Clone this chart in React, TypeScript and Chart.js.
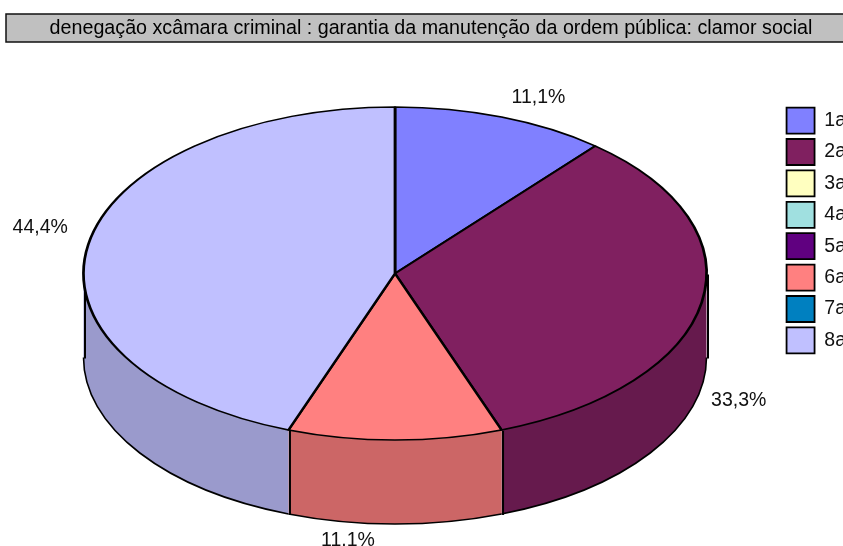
import React, { useEffect, useRef } from "react";
import { Chart, registerables } from "chart.js";

Chart.register(...registerables);

const titleText = "denegação xcâmara criminal : garantia da manutenção da ordem pública: clamor social";
const categories = ["1a", "2a", "3a", "4a", "5a", "6a", "7a", "8a"];
const counts = [1, 3, 0, 0, 0, 1, 0, 4];
const pointLabels = ["11,1%", "33,3%", "", "", "", "11.1%", "", "44,4%"];
const topColors = ["#8080FF", "#802060", "#FFFFC0", "#A0E0E0", "#600080", "#FF8080", "#0080C0", "#C0C0FF"];
const wallColors = ["#6666CC", "#661A4D", "#CCCC9A", "#80B3B3", "#4D0066", "#CC6666", "#00669A", "#9A9ACC"];
const labelNudges: [number, number][] = [[37, -19], [37, 98], [0, 0], [0, 0], [0, 0], [-47, 101], [0, 0], [-48, -17]];

const CX = 395;
const CY = 273.5;
const RX = 311.5;
const RY = 166.5;
const DEPTH = 84;
const FONT = "'Liberation Sans', Arial, sans-serif";

const pie3d = {
  id: "pie3d",
  beforeDraw(chart: any) {
    const c = chart.ctx;
    c.save();
    c.fillStyle = "#C0C0C0";
    c.strokeStyle = "#111";
    c.lineWidth = 1.5;
    c.fillRect(6, 14, 860, 28);
    c.strokeRect(6, 14, 860, 28);
    c.restore();
  },
  beforeDatasetsDraw(chart: any) {
    const c = chart.ctx;
    const arcs = chart.getDatasetMeta(0).data;
    c.save();
    const verticals: number[] = [];
    arcs.forEach((a: any, i: number) => {
      const s = Math.max(a.startAngle, 0);
      const e = Math.min(a.endAngle, Math.PI);
      if (e <= s) return;
      c.beginPath();
      c.ellipse(CX, CY, RX, RY, 0, s, e);
      c.ellipse(CX, CY + DEPTH, RX, RY, 0, e, s, true);
      c.closePath();
      c.fillStyle = wallColors[i];
      c.fill();
      c.beginPath();
      c.ellipse(CX, CY + DEPTH, RX, RY, 0, s, e);
      c.strokeStyle = "#000";
      c.lineWidth = 1.6;
      c.stroke();
      verticals.push(s, e);
    });
    c.strokeStyle = "#000";
    c.lineWidth = 2;
    Array.from(new Set(verticals)).forEach((ang) => {
      const x = CX + RX * Math.cos(ang) + 1.5;
      const y = CY + RY * Math.sin(ang);
      c.beginPath();
      c.moveTo(x, y + 1);
      c.lineTo(x, y + DEPTH + 1);
      c.stroke();
    });
    c.restore();
    const first = arcs[0];
    c.save();
    c.translate(CX, CY);
    c.scale(RX / first.outerRadius, RY / first.outerRadius);
    c.translate(-first.x, -first.y);
  },
  afterDatasetsDraw(chart: any) {
    const c = chart.ctx;
    c.restore();
    const arcs = chart.getDatasetMeta(0).data;
    c.save();
    c.font = `19.5px ${FONT}`;
    c.fillStyle = "#111";
    c.textAlign = "center";
    c.textBaseline = "middle";
    arcs.forEach((a: any, i: number) => {
      if (!pointLabels[i]) return;
      const mid = (a.startAngle + a.endAngle) / 2;
      const x = CX + RX * Math.cos(mid) + labelNudges[i][0];
      const y = CY + RY * Math.sin(mid) + labelNudges[i][1];
      c.fillText(pointLabels[i], x, y);
    });
    c.restore();
  },
};

export default function App() {
  const ref = useRef<HTMLCanvasElement>(null);
  useEffect(() => {
    const chart = new Chart(ref.current as HTMLCanvasElement, {
      type: "pie",
      data: {
        labels: categories,
        datasets: [
          {
            data: counts,
            backgroundColor: topColors,
            borderColor: "#000",
            borderWidth: 1.8,
            clip: false,
          } as any,
        ],
      },
      options: {
        responsive: false,
        animation: false,
        layout: { padding: { left: 6, right: -13, top: 0, bottom: 85 } },
        plugins: {
          tooltip: { enabled: false },
          title: {
            display: true,
            text: titleText,
            color: "#000",
            font: { family: FONT, size: 19.7, weight: "normal" },
            padding: { top: 17, bottom: 10 },
          },
          legend: {
            position: "right",
            align: "center",
            labels: {
              boxWidth: 28,
              boxHeight: 26,
              padding: 5.4,
              color: "#111",
              font: { family: FONT, size: 19.5 },
            },
          },
        },
      },
      plugins: [pie3d],
    } as any);
    return () => chart.destroy();
  }, []);
  return (
    <div style={{ position: "absolute", left: 0, top: 0, width: 843, height: 546, overflow: "hidden", background: "#fff" }}>
      <canvas ref={ref} width={843} height={546} style={{ display: "block" }} />
    </div>
  );
}
